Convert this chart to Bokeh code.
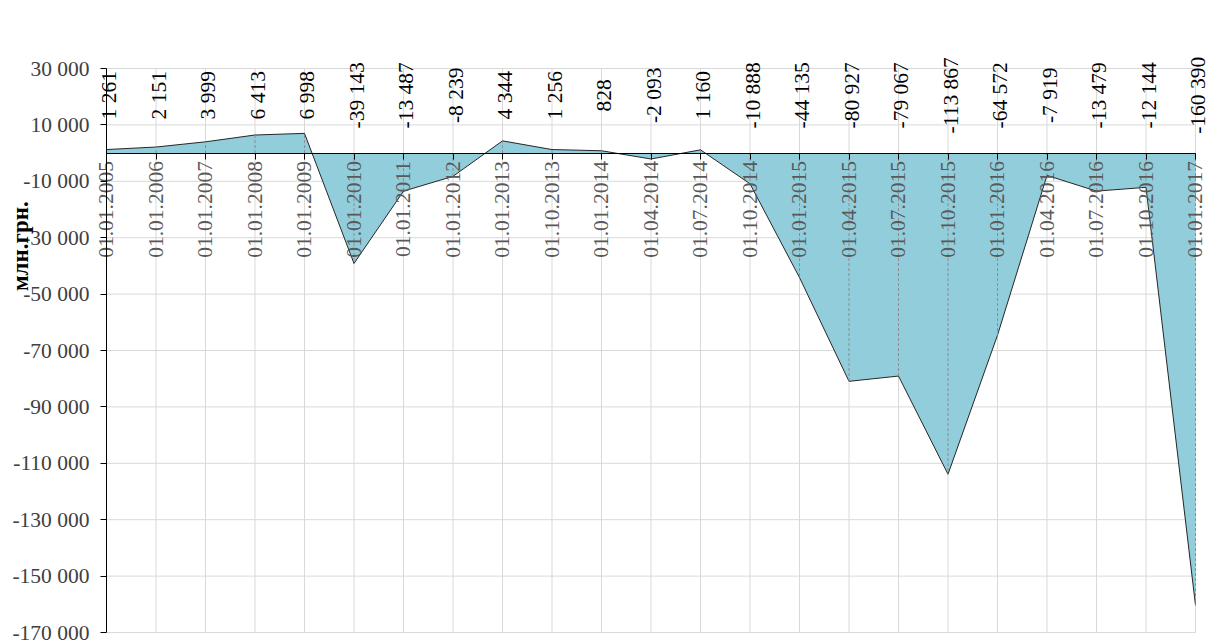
import math
from bokeh.plotting import figure
from bokeh.models import (Range1d, FixedTicker, LinearAxis, LabelSet, Label,
                          ColumnDataSource)
from bokeh.embed import file_html
from bokeh.resources import INLINE

# ---- data ----
dates = ["01.01.2005", "01.01.2006", "01.01.2007", "01.01.2008", "01.01.2009",
         "01.01.2010", "01.01.2011", "01.01.2012", "01.01.2013", "01.10.2013",
         "01.01.2014", "01.04.2014", "01.07.2014", "01.10.2014", "01.01.2015",
         "01.04.2015", "01.07.2015", "01.10.2015", "01.01.2016", "01.04.2016",
         "01.07.2016", "01.10.2016", "01.01.2017"]
values = [1261, 2151, 3999, 6413, 6998, -39143, -13487, -8239, 4344, 1256,
          828, -2093, 1160, -10888, -44135, -80927, -79067, -113867, -64572,
          -7919, -13479, -12144, -160390]
y_ticks = [30000, 10000, -10000, -30000, -50000, -70000, -90000, -110000,
           -130000, -150000, -170000]
y_title = "млн.грн."


def fmt(v):
    return f"{v:,}".replace(",", " ")


idx = list(range(len(dates)))
n_last = idx[-1]
y_min, y_max = min(y_ticks), max(y_ticks)
serif = "Liberation Serif"
fs = "21.5px"

# ---- layout (canvas pixels) ----
W, H = 1210, 644
L, R = 106, 1195      # first / last category
T, B = 68, 632        # top / bottom of value axis
per = (R - L) / n_last
ppu = (B - T) / (y_max - y_min)
x_range = Range1d(-L / per, n_last + (W - R) / per)
y_range = Range1d(y_min - (H - B) / ppu, y_max + T / ppu)

p = figure(width=W, height=H, output_backend="svg", toolbar_location=None,
           x_range=x_range, y_range=y_range, x_axis_type=None, y_axis_type=None,
           min_border=0, min_border_left=0, min_border_right=0,
           min_border_top=0, min_border_bottom=0, title=None)
p.outline_line_color = None
p.background_fill_color = "white"
p.grid.visible = False

grid_col = "#d9d9d9"
# horizontal gridlines
p.segment(x0=[0] * len(y_ticks), y0=y_ticks, x1=[n_last] * len(y_ticks),
          y1=y_ticks, line_color=grid_col, line_width=1)
# vertical gridlines
p.segment(x0=idx, y0=[y_min] * len(idx), x1=idx, y1=[y_max] * len(idx),
          line_color=grid_col, line_width=1)

# area
p.varea(x=idx, y1=0, y2=values, fill_color="#92cddc")
p.line(idx, values, line_color="#262626", line_width=1)
# drop lines
p.segment(x0=idx, y0=[0] * len(idx), x1=idx, y1=values,
          line_color="#8c8c8c", line_dash="3 2", line_width=1)

# value axis at first category
ya = LinearAxis(fixed_location=0, bounds=(y_min, y_max),
                ticker=FixedTicker(ticks=y_ticks),
                major_label_overrides={t: fmt(t) for t in y_ticks},
                major_label_text_font=serif,
                major_label_text_font_size=fs,
                major_label_text_color="#404040",
                major_label_standoff=11,
                axis_line_color="black", major_tick_line_color="black",
                major_tick_in=0, major_tick_out=6,
                minor_tick_line_color=None)
p.add_layout(ya, "left")

# category axis crossing at zero
xa = LinearAxis(fixed_location=0, bounds=(0, n_last),
                ticker=FixedTicker(ticks=idx),
                major_label_overrides={i: d for i, d in zip(idx, dates)},
                major_label_orientation=math.pi / 2,
                major_label_text_font=serif,
                major_label_text_font_size=fs,
                major_label_text_color="#595959",
                major_label_standoff=2,
                axis_line_color="black", major_tick_line_color="black",
                major_tick_in=0, major_tick_out=6,
                minor_tick_line_color=None)
p.add_layout(xa, "below")

# data labels
src = ColumnDataSource(dict(x=idx, text=[fmt(v) for v in values]))
labels = LabelSet(x="x", y=20500, text="text", source=src, angle=math.pi / 2,
                  text_align="center", text_baseline="middle", x_offset=3,
                  text_font=serif, text_font_size=fs, text_color="black")
p.add_layout(labels)

# value-axis title
p.add_layout(Label(x=-86 / per, y=-33000, text=y_title, angle=math.pi / 2,
                   text_align="center", text_baseline="middle",
                   text_font=serif, text_font_size="23px",
                   text_font_style="bold", text_color="black"))

open("out.html", "w").write(file_html(p, INLINE))
